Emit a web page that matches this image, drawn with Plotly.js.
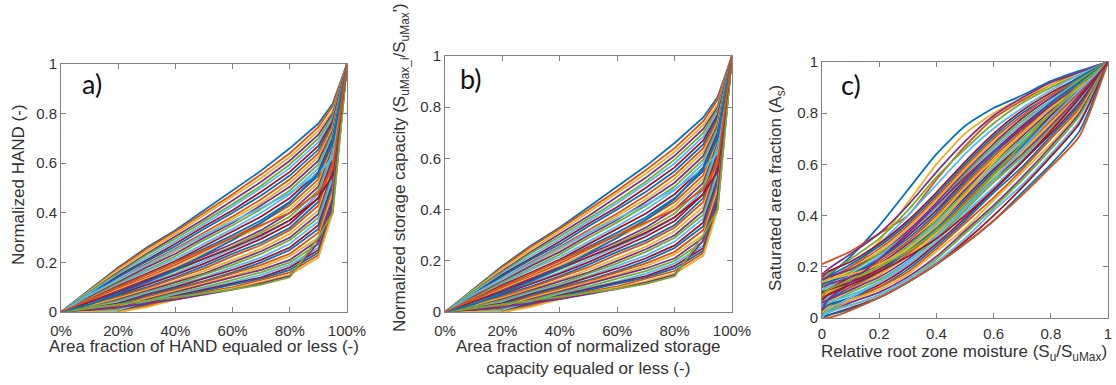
<!DOCTYPE html>
<html>
<head>
<meta charset="utf-8">
<script src="https://cdn.plot.ly/plotly-3.0.1.min.js"></script>
<style>html,body{margin:0;padding:0;background:#fff;}#chart{width:1116px;height:385px;}</style>
</head>
<body>
<div id="chart"></div>
<script>
// ---------- Data ----------
// Panel a/b: area fraction (x) vs normalized HAND / storage capacity (y)
const handX = [0, 0.1, 0.2, 0.3, 0.4, 0.5, 0.6, 0.7, 0.8, 0.9, 0.95, 1];
const handCurves = [
  [0,.09,.18,.26,.33,.41,.49,.57,.66,.76,.84,1],
  [0,.085,.175,.255,.325,.40,.475,.555,.64,.745,.83,1],
  [0,.085,.17,.245,.315,.39,.465,.54,.625,.73,.81,1],
  [0,.08,.16,.235,.305,.375,.45,.525,.61,.715,.80,1],
  [0,.08,.155,.23,.295,.365,.435,.51,.595,.70,.79,1],
  [0,.075,.15,.22,.285,.355,.425,.50,.58,.685,.78,1],
  [0,.07,.145,.21,.275,.345,.41,.485,.565,.67,.77,1],
  [0,.07,.14,.205,.265,.335,.40,.47,.55,.655,.76,1],
  [0,.065,.13,.195,.255,.32,.385,.455,.535,.64,.75,1],
  [0,.06,.125,.185,.245,.31,.375,.44,.52,.625,.74,1],
  [0,.06,.12,.18,.235,.30,.36,.43,.505,.61,.73,1],
  [0,.055,.115,.17,.225,.29,.35,.415,.49,.595,.72,1],
  [0,.05,.11,.165,.215,.275,.335,.40,.475,.58,.71,1],
  [0,.05,.105,.155,.205,.265,.325,.385,.46,.565,.70,1],
  [0,.045,.10,.15,.20,.255,.31,.37,.445,.55,.69,1],
  [0,.045,.095,.14,.19,.245,.30,.36,.43,.535,.68,1],
  [0,.04,.09,.135,.18,.235,.29,.345,.415,.52,.67,1],
  [0,.04,.085,.13,.175,.225,.275,.33,.40,.505,.66,1],
  [0,.035,.08,.12,.165,.215,.265,.32,.385,.49,.65,1],
  [0,.035,.075,.115,.155,.205,.255,.305,.37,.475,.64,1],
  [0,.03,.07,.11,.15,.195,.245,.295,.355,.46,.62,1],
  [0,.03,.065,.10,.14,.185,.235,.28,.34,.445,.61,1],
  [0,.025,.06,.095,.135,.175,.225,.27,.33,.43,.60,1],
  [0,.025,.055,.09,.125,.165,.21,.255,.315,.41,.58,1],
  [0,.02,.05,.085,.12,.155,.20,.245,.30,.395,.57,1],
  [0,.02,.045,.08,.11,.15,.19,.235,.29,.38,.55,1],
  [0,.015,.04,.075,.105,.14,.18,.22,.275,.365,.54,1],
  [0,.015,.035,.07,.10,.135,.17,.21,.26,.35,.52,1],
  [0,.01,.03,.065,.095,.125,.16,.20,.25,.335,.51,1],
  [0,.01,.025,.06,.09,.12,.155,.19,.235,.32,.49,1],
  [0,.005,.02,.055,.085,.115,.145,.18,.225,.30,.48,1],
  [0,.005,.015,.05,.08,.11,.14,.17,.21,.29,.46,1],
  [0,0,.01,.045,.075,.10,.13,.16,.20,.275,.45,1],
  [0,0,.005,.04,.07,.095,.12,.15,.19,.26,.44,1],
  [0,0,0,.035,.065,.09,.115,.14,.18,.25,.43,1],
  [0,0,0,.03,.06,.085,.11,.135,.17,.24,.42,1],
  [0,0,0,.025,.055,.08,.10,.13,.16,.23,.41,1],
  [0,0,0,.02,.05,.075,.095,.12,.15,.22,.40,1],
  [0,.01,.02,.035,.05,.07,.09,.115,.145,.28,.45,1],
  [0,.015,.03,.045,.06,.075,.09,.11,.14,.30,.40,1],
  [0,.07,.13,.19,.25,.31,.365,.42,.48,.56,.62,1],
  [0,.04,.08,.125,.17,.215,.26,.31,.37,.46,.55,1],
  [0,.03,.075,.12,.17,.23,.29,.36,.44,.56,.68,1],
  [0,.05,.10,.15,.20,.25,.30,.35,.40,.48,.58,1]
];
// Panel b shows the same normalized distribution (storage capacity)
const storageX = handX;
const storageCurves = handCurves;

// Panel c: relative root zone moisture (x) vs saturated area fraction (y)
const moistX = [0, 0.02, 0.1, 0.2, 0.3, 0.4, 0.5, 0.6, 0.7, 0.8, 0.9, 1];
const satCurves = [
  [.12,.16,.24,.36,.50,.64,.75,.82,.87,.925,.965,1],
  [.21,.22,.26,.33,.40,.54,.67,.78,.85,.91,.96,1],
  [.05,.09,.18,.30,.45,.60,.72,.80,.86,.91,.95,1],
  [.17,.19,.25,.33,.44,.57,.69,.79,.86,.92,.96,1],
  [.15,.17,.23,.31,.42,.55,.66,.76,.84,.90,.95,1],
  [.10,.13,.20,.29,.40,.52,.64,.74,.82,.89,.95,1],
  [.16,.18,.22,.29,.38,.49,.61,.72,.81,.88,.94,1],
  [.14,.16,.21,.28,.37,.48,.60,.71,.80,.87,.94,1],
  [.13,.15,.20,.27,.36,.47,.59,.70,.79,.87,.93,1],
  [.12,.14,.19,.26,.35,.46,.58,.69,.78,.86,.93,1],
  [.15,.16,.19,.25,.34,.45,.57,.68,.78,.86,.93,1],
  [.10,.13,.18,.25,.33,.44,.56,.67,.77,.85,.93,1],
  [.11,.12,.17,.24,.33,.43,.55,.66,.76,.85,.92,1],
  [.09,.11,.16,.23,.32,.42,.54,.65,.75,.84,.92,1],
  [.13,.14,.17,.23,.31,.41,.53,.64,.74,.84,.92,1],
  [.08,.10,.15,.22,.30,.40,.52,.63,.73,.83,.91,1],
  [.07,.10,.15,.21,.29,.39,.51,.62,.72,.82,.91,1],
  [.12,.13,.16,.21,.29,.38,.50,.61,.71,.81,.90,1],
  [.06,.09,.14,.20,.28,.38,.49,.60,.70,.80,.90,1],
  [.05,.08,.13,.19,.27,.37,.48,.59,.69,.79,.89,1],
  [.10,.11,.14,.19,.26,.36,.47,.58,.68,.79,.89,1],
  [.04,.07,.12,.18,.26,.35,.46,.57,.67,.78,.88,1],
  [.08,.09,.12,.17,.25,.34,.45,.56,.66,.77,.88,1],
  [.03,.06,.11,.17,.24,.33,.44,.55,.65,.76,.87,1],
  [.06,.07,.11,.16,.23,.32,.43,.54,.64,.75,.87,1],
  [.02,.05,.10,.15,.22,.31,.42,.53,.63,.74,.86,1],
  [.04,.06,.09,.14,.21,.30,.41,.51,.62,.73,.85,1],
  [.01,.04,.08,.13,.20,.29,.39,.50,.61,.72,.84,1],
  [.03,.05,.08,.12,.19,.28,.38,.49,.59,.71,.83,1],
  [0,.03,.07,.12,.18,.27,.37,.47,.58,.70,.82,1],
  [.02,.04,.07,.11,.17,.26,.35,.46,.57,.68,.81,1],
  [0,.02,.06,.10,.16,.24,.34,.44,.55,.67,.80,1],
  [.01,.03,.05,.09,.15,.23,.33,.43,.54,.66,.79,1],
  [0,.02,.05,.09,.15,.22,.31,.42,.52,.64,.77,1],
  [0,.01,.04,.08,.14,.21,.30,.40,.51,.63,.76,1],
  [0,.01,.035,.08,.14,.21,.29,.38,.49,.60,.73,1],
  [0,0,.03,.08,.14,.21,.29,.38,.48,.59,.71,1],
  [.14,.15,.17,.21,.27,.36,.48,.61,.72,.82,.90,1],
  [.03,.07,.14,.23,.33,.44,.55,.65,.74,.83,.91,1],
  [.09,.11,.15,.20,.26,.34,.44,.56,.68,.80,.91,1],
  [0,.03,.08,.14,.22,.32,.43,.54,.66,.78,.89,1],
  [.07,.09,.13,.18,.24,.31,.40,.50,.61,.73,.86,1]
];

const xTicksPct = [0, 0.2, 0.4, 0.6, 0.8, 1];
const yTicks = [0, 0.2, 0.4, 0.6, 0.8, 1];

// ---------- Styling ----------
const palette = ['#0072BD','#D95319','#EDB120','#7E2F8E','#77AC30','#4DBEEE','#A2142F'];
const LW = 1.8;
const tickFont = {family: 'Liberation Sans, Arial, sans-serif', size: 15, color: '#333'};
const titleFont = {family: 'Liberation Sans, Arial, sans-serif', size: 17, color: '#333'};
const labelFont = {family: 'Lato, Open Sans, sans-serif', size: 27, color: '#111'};

const traces = [];
function addSet(xs, curves, xa, ya, shape) {
  curves.forEach((ys, i) => {
    traces.push({
      x: xs, y: ys, xaxis: xa, yaxis: ya, type: 'scatter', mode: 'lines',
      line: {color: palette[i % palette.length], width: LW, shape: shape, smoothing: 0.6},
      hoverinfo: 'skip', showlegend: false
    });
  });
}
addSet(handX, handCurves, 'x', 'y', 'linear');
addSet(storageX, storageCurves, 'x2', 'y2', 'linear');
addSet(moistX, satCurves, 'x3', 'y3', 'spline');

function axis(domain, anchor, extra) {
  return Object.assign({
    domain: domain, anchor: anchor, range: [0, 1], autorange: false,
    showline: true, linecolor: '#808080', linewidth: 1, mirror: 'ticks',
    ticks: 'inside', ticklen: 5, tickcolor: '#808080', tickwidth: 1,
    showgrid: false, zeroline: false, tickfont: tickFont, fixedrange: true
  }, extra || {});
}

const W = 1116, H = 385;
const px = v => v / W, py = v => 1 - v / H;
function ann(text, x, y, font, angle) {
  return {text: text, x: px(x), y: py(y), xref: 'paper', yref: 'paper',
          xanchor: 'center', yanchor: 'middle', showarrow: false,
          textangle: angle || 0, font: font};
}

const layout = {
  width: W, height: H,
  margin: {l: 0, r: 0, t: 0, b: 0},
  paper_bgcolor: '#fff', plot_bgcolor: '#fff',
  showlegend: false,
  xaxis:  axis([px(61), px(347)], 'y',  {tickvals: xTicksPct, tickformat: '.0%', ticklabelstandoff: 5}),
  yaxis:  axis([py(312), py(64)], 'x',  {tickvals: yTicks}),
  xaxis2: axis([px(445), px(732)], 'y2', {tickvals: xTicksPct, tickformat: '.0%', ticklabelstandoff: 5}),
  yaxis2: axis([py(312), py(56)], 'x2', {tickvals: yTicks}),
  xaxis3: axis([px(822), px(1108)], 'y3', {tickvals: yTicks, ticklabelstandoff: 2}),
  yaxis3: axis([py(318), py(62)], 'x3', {tickvals: yTicks}),
  annotations: [
    ann('a)', 92, 84, labelFont),
    ann('b)', 471, 78, labelFont),
    ann('c)', 851, 85, labelFont),
    ann('Area fraction of HAND equaled or less (-)', 204, 346, titleFont),
    ann('Normalized HAND (-)', 18, 185, titleFont, -90),
    ann('Area fraction of normalized storage<br>capacity equaled or less (-)', 588, 357, titleFont),
    ann("Normalized storage capacity (S<sub>uMax_i</sub>/S<sub>uMax</sub>')", 401, 168, titleFont, -90),
    ann('Relative root zone moisture (S<sub>u</sub>/S<sub>uMax</sub>)', 964, 353, titleFont),
    ann('Saturated area fraction (A<sub>s</sub>)', 777, 188, titleFont, -90)
  ]
};

Plotly.newPlot('chart', traces, layout, {staticPlot: true, displayModeBar: false});
</script>
</body>
</html>
